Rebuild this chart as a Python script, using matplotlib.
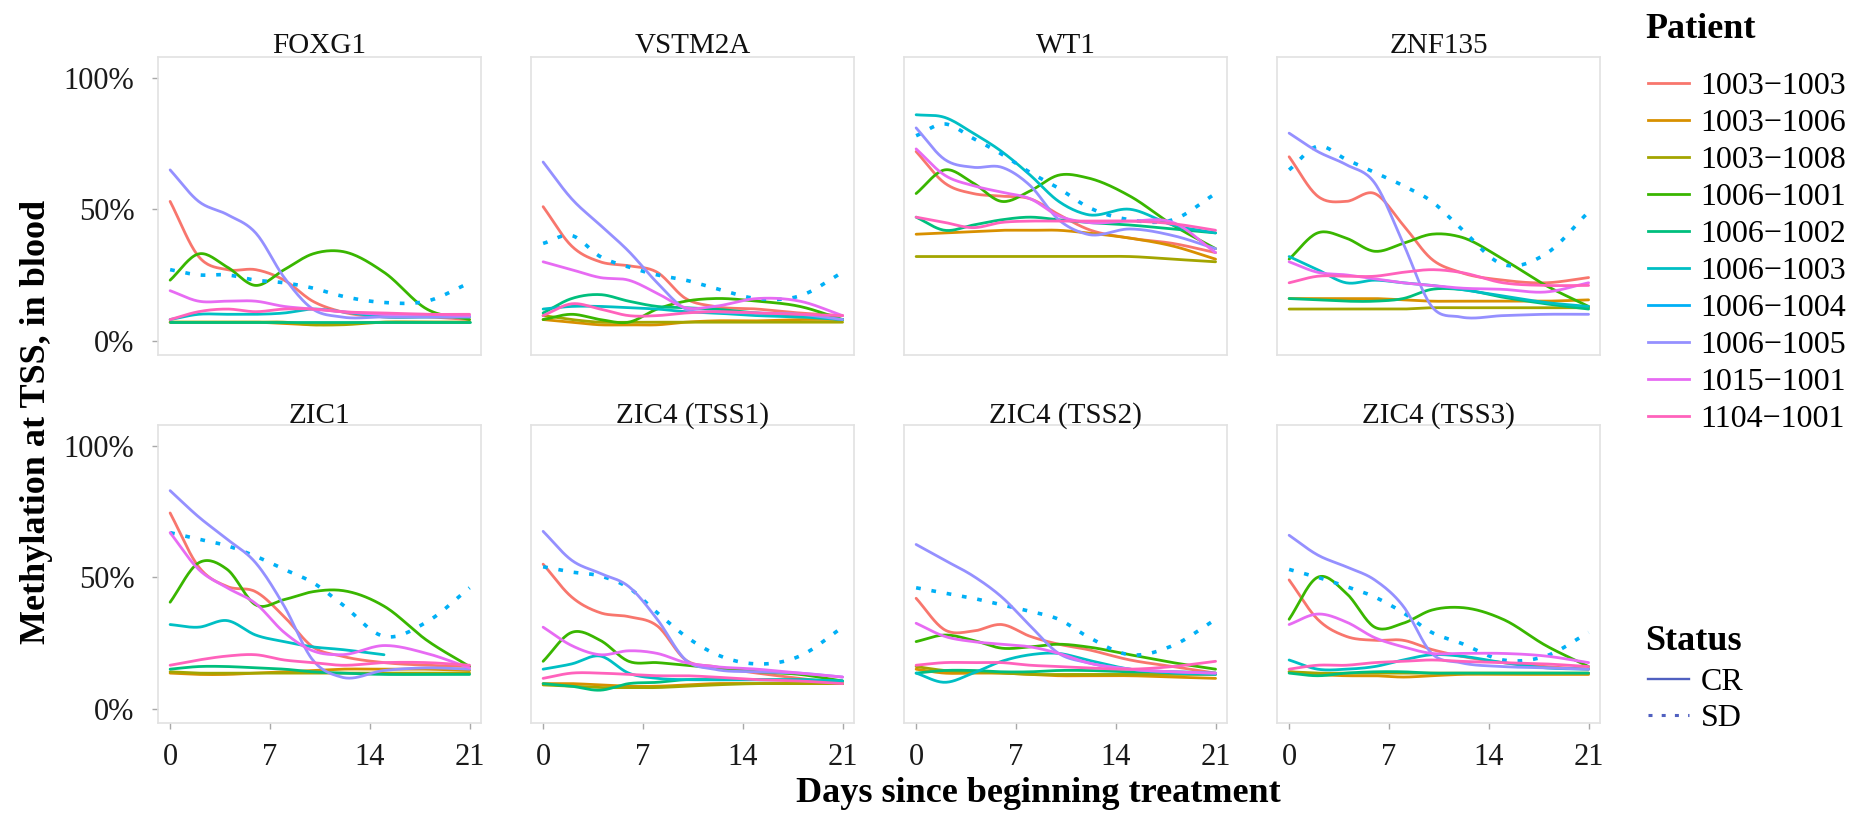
# plot.py
# Methylation at TSS over treatment days, one panel per gene

import numpy as np
import matplotlib
matplotlib.use('Agg')
import matplotlib.pyplot as plt
from matplotlib.lines import Line2D

plt.rcParams['font.family'] = ['Liberation Serif', 'DejaVu Serif']

# Patients (legend order) and their ggplot hue colours
patients = ['1003-1003', '1003-1006', '1003-1008', '1006-1001', '1006-1002',
            '1006-1003', '1006-1004', '1006-1005', '1015-1001', '1104-1001']
patient_colors = ['#F8766D', '#D89000', '#A3A500', '#39B600', '#00BF7D',
                  '#00BFC4', '#00B0F6', '#9590FF', '#E76BF3', '#FF62BC']
patient_status = ['CR', 'CR', 'CR', 'CR', 'CR', 'CR', 'SD', 'CR', 'CR', 'CR']
status_levels = ['CR', 'SD']

genes = ['FOXG1', 'VSTM2A', 'WT1', 'ZNF135',
         'ZIC1', 'ZIC4 (TSS1)', 'ZIC4 (TSS2)', 'ZIC4 (TSS3)']

days = [0, 2, 4, 6, 8, 10, 12, 15, 18, 21]

# methylation in %, one row per patient (same order as patients)
foxg1 = [
    [53, 32, 27, 27, 23, 15, 11, 9, 9, 8],
    [7, 7, 7, 7, 6.5, 6, 6.5, 7, 7, 7],
    [7, 7, 7, 7, 7, 6, 6, 7, 7, 7],
    [23, 33, 28, 21, 27, 33, 34, 26, 12, 8],
    [7, 7, 7, 7, 7, 7, 7, 7, 7, 7],
    [8, 10, 10, 10, 10.5, 12, 11, 9, 9, 9],
    [27, 25, 25, 23, 22, 20, 17, 14.5, 15, 22],
    [65, 53, 48, 41, 24, 12, 9, 9, 9, 9],
    [19, 15, 15, 15, 13, 12, 11, 10, 10, 9.5],
    [8, 11, 12, 11, 12, 12, 11, 10.5, 10, 10],
]
vstm2a = [
    [51, 36, 30, 28.5, 26, 16, 13, 12, 10.5, 9.5],
    [8, 7, 6, 6, 6, 7, 7.5, 7.5, 8, 8],
    [9.5, 8, 7, 7, 7, 7, 7, 7, 7, 7],
    [8, 10, 8, 7, 12, 15, 16, 15, 13, 8],
    [10.5, 16, 17.5, 15, 13, 12.5, 12, 10.5, 9.5, 8],
    [12, 13, 13, 12.5, 12, 11, 10.5, 9.5, 9, 8],
    [37, 40, 32, 28, 25, 23, 20, 16, 17, 26],
    [68, 54, 44, 34, 22, 12, 11, 10.5, 10, 8],
    [30, 27, 24, 23, 18, 12.5, 13, 16, 15, 9.5],
    [9.5, 14, 12, 9.5, 9.5, 10.5, 11, 10.5, 10, 9.5],
]
wt1 = [
    [72, 60, 56, 55, 54, 48, 42.5, 39, 37, 33.5],
    [40.5, 41, 41.5, 42, 42, 42, 41, 39, 36, 31],
    [32, 32, 32, 32, 32, 32, 32, 32, 31, 30],
    [56, 65, 60, 53, 57, 63, 62, 55, 44, 35],
    [47, 42, 44, 46, 47, 46, 45, 44, 42.5, 41],
    [86, 85, 79, 72, 63, 53, 48, 50, 44, 41],
    [78, 82.5, 77, 71, 64, 58, 51, 46, 46, 56],
    [81, 69, 66, 66, 59, 46, 40.5, 42.5, 40, 35],
    [73, 63, 59, 56.5, 54, 47.5, 45, 45.5, 45, 33.5],
    [47, 45, 43, 45, 45.5, 45.5, 45.5, 45.5, 44.5, 42],
]
znf135 = [
    [70, 55, 53, 56, 44, 31, 26, 23, 22, 24],
    [16, 16, 16, 16, 15.5, 15, 15, 15, 15, 15.5],
    [12, 12, 12, 12, 12, 12.5, 12.5, 12.5, 12.5, 12.5],
    [31, 41, 39, 34, 37, 40.5, 39.5, 31, 21, 13],
    [16, 15.5, 15, 15, 16, 19.5, 19.5, 16.5, 14, 12],
    [32, 27, 22, 23, 22, 21, 19.5, 17, 14.5, 13],
    [65, 74, 69, 64, 59, 53, 43, 29, 33, 49],
    [79, 72, 67, 60, 37, 13, 9, 9.5, 10, 10],
    [30, 26, 25, 23.5, 22, 21, 20, 19.5, 18.5, 22],
    [22, 24.5, 24.5, 24.5, 26, 27, 26, 22, 21, 21],
]
zic1 = [
    [74.5, 54, 46.5, 44.5, 35, 23.5, 20, 17.5, 16.5, 16],
    [13.5, 13, 13, 13.5, 14, 14.5, 15, 15, 15, 14.5],
    [14, 13.5, 13.5, 13.5, 13.5, 13.5, 13.5, 13.5, 13.5, 13.5],
    [40.5, 55.5, 53, 39.5, 41.5, 44.5, 45, 39, 26, 16],
    [15, 16, 16, 15.5, 15, 14, 13.5, 13, 13, 13],
    [32, 31, 33.5, 28, 25.5, 23.5, 22.5, 20.5, None, None],
    [67, 64.5, 62, 58, 53, 48, 40, 27.5, 33, 46],
    [83, 73, 64.5, 55.5, 39, 18.5, 12, 14.5, 15.5, 15],
    [67, 53, 46, 40, 29, 22, 20.5, 24, 21, 15.5],
    [16.5, 18.5, 20, 20.5, 18.5, 17.5, 16.5, 17.5, 17.5, 16.5],
]
zic4_tss1 = [
    [55, 42.5, 36.5, 35, 31.5, 18.5, 16, 13.5, 11.5, 9.5],
    [9.5, 9.5, 9, 8.5, 8.5, 9, 9.5, 9.5, 9.5, 9.5],
    [9, 8.5, 8, 8, 8, 8.5, 9, 9.5, 9.5, 9.5],
    [18, 29, 26, 18, 17.5, 16.5, 15.5, 14, 13, 10.5],
    [9.5, 8.5, 7, 9.5, 10, 11, 11, 11, 11, 10.5],
    [15, 17, 20, 13.5, 11.5, 11, 11, 11, 11, 10.5],
    [54, 52, 50.5, 46, 36.5, 27.5, 21, 17, 20, 31],
    [67.5, 56.5, 51.5, 46.5, 34, 18.5, 15, 14, 13.5, 12],
    [31, 24, 20.5, 22, 21, 17.5, 16, 15, 13.5, 12],
    [11.5, 13.5, 13.5, 13, 12.5, 12.5, 12, 11, 10.5, 9.5],
]
zic4_tss2 = [
    [42, 30, 29.5, 32, 27.5, 24.5, 22.5, 18.5, 16, 13.5],
    [15, 13.5, 13.5, 13.5, 13, 12.5, 12.5, 12.5, 12, 11.5],
    [16, 14.5, 14, 13.5, 13, 13, 13, 13, 13, 13],
    [25.5, 28, 26, 23, 23.5, 24.5, 23.5, 20.5, 17.5, 15],
    [13.5, 14.5, 14.5, 14, 14, 14.5, 14.5, 14, 14, 13.5],
    [13.5, 10, 13.5, 18, 20.5, 21, 18.5, 15, 13.5, 13],
    [46, 44, 42, 39.5, 37, 34, 27.5, 20.5, 24, 34],
    [62.5, 56.5, 50.5, 42.5, 31.5, 21, 17.5, 15, 14, 13.5],
    [32.5, 27.5, 25.5, 24.5, 23.5, 21, 17.5, 15, 14, 13.5],
    [16.5, 17.5, 17.5, 17.5, 16.5, 16, 15.5, 15, 16, 18],
]
zic4_tss3 = [
    [49, 34, 27.5, 26, 26, 22.5, 20, 17.5, 16, 15],
    [14, 13, 12.5, 12.5, 12, 12.5, 13, 13, 13, 13],
    [14, 13.5, 13.5, 13.5, 13.5, 13.5, 13.5, 13.5, 13.5, 13.5],
    [34, 50, 44, 31, 32.5, 37.5, 38.5, 34, 24, 16],
    [13.5, 12.5, 13.5, 14, 14, 13.5, 13.5, 13.5, 13.5, 13.5],
    [18.5, 15, 15, 16, 18.5, 20.5, 20, 17.5, 15.5, 15],
    [53, 50, 46.5, 42.5, 36.5, 29, 25, 18.5, 20, 29],
    [66, 58.5, 54, 49, 39, 21, 17.5, 16, 15.5, 15],
    [32, 36, 33, 27, 23.5, 21, 21, 21, 20, 17.5],
    [15, 16.5, 16.5, 17.5, 18, 18.5, 18, 17.5, 17, 16],
]
gene_values = [foxg1, vstm2a, wt1, znf135, zic1, zic4_tss1, zic4_tss2, zic4_tss3]

x_ticks = [0, 7, 14, 21]
y_ticks = [0, 50, 100]


def smooth_curve(x, y, n=200):
    """Cubic Hermite curve through the read points (stand-in for geom_smooth)."""
    x = np.asarray(x, dtype=float)
    y = np.asarray(y, dtype=float)
    ok = ~np.isnan(y)
    x, y = x[ok], y[ok]
    m = np.gradient(y, x)
    xs = np.linspace(x[0], x[-1], n)
    idx = np.clip(np.searchsorted(x, xs, side='right') - 1, 0, len(x) - 2)
    h = x[idx + 1] - x[idx]
    t = (xs - x[idx]) / h
    h00 = 2 * t**3 - 3 * t**2 + 1
    h10 = t**3 - 2 * t**2 + t
    h01 = -2 * t**3 + 3 * t**2
    h11 = t**3 - t**2
    ys = h00 * y[idx] + h10 * h * m[idx] + h01 * y[idx + 1] + h11 * h * m[idx + 1]
    return xs, ys


line_styles = {'CR': '-', 'SD': (0, (1.3, 3.0))}
line_widths = {'CR': 2.0, 'SD': 2.6}

W, H = 1868, 817
fig = plt.figure(figsize=(W / 100, H / 100), dpi=100)

col_left = [158, 531, 904, 1277]
row_top = [57, 425]
panel_w, panel_h = 323, 298

for i, gene in enumerate(genes):
    r, c = divmod(i, 4)
    ax = fig.add_axes([col_left[c] / W, 1 - (row_top[r] + panel_h) / H,
                       panel_w / W, panel_h / H])
    for p in range(len(patients)):
        xs, ys = smooth_curve(days, gene_values[i][p])
        st = patient_status[p]
        ax.plot(xs, ys, color=patient_colors[p], linestyle=line_styles[st],
                lw=line_widths[st], solid_capstyle='round')

    ax.set_xlim(-0.85, 21.8)
    ax.set_ylim(-5.5, 108)
    ax.set_xticks(x_ticks)
    ax.set_yticks(y_ticks)
    ax.set_yticklabels([f'{v}%' for v in y_ticks])
    ax.tick_params(axis='both', colors='#A8A8A8', length=4, width=1,
                   labelcolor='#1A1A1A', labelsize=22)
    ax.tick_params(axis='x', pad=10.5)
    ax.tick_params(axis='y', pad=13)
    if c != 0:
        ax.tick_params(axis='y', left=False, labelleft=False)
    if r == 0:
        ax.tick_params(axis='x', bottom=False, labelbottom=False)
    for s in ax.spines.values():
        s.set_color('#E2E2E2')
        s.set_linewidth(1.2)
    title_off = 11 if r == 0 else 9
    ax.text(0.5, 1 + title_off / panel_h, gene, transform=ax.transAxes,
            ha='center', va='center', fontsize=21, color='#111111')

fig.text(37 / W, 1 - 422 / H, 'Methylation at TSS, in blood', rotation=90,
         ha='center', va='center', fontsize=26, fontweight='bold')
fig.text(1038 / W, 1 - 793 / H, 'Days since beginning treatment',
         ha='center', va='center', fontsize=26, fontweight='bold')

# legends (titles placed separately so the gap below them can match)
fig.text(1645 / W, 1 - 30 / H, 'Patient', ha='left', va='center',
         fontsize=26, fontweight='bold')
patient_handles = [Line2D([], [], color=col, lw=2.0) for col in patient_colors]
leg1 = fig.legend(patient_handles, [p.replace('-', '\u2212') for p in patients],
                  loc='upper left', bbox_to_anchor=(1635 / W, 1 - 59 / H),
                  frameon=False, fontsize=23, handlelength=1.3,
                  handletextpad=0.35, labelspacing=0.24, borderaxespad=0)

fig.text(1645 / W, 1 - 642 / H, 'Status', ha='left', va='center',
         fontsize=26, fontweight='bold')
status_handles = [Line2D([], [], color='#5060C0', lw=line_widths[s] * 0.85,
                         linestyle=line_styles[s]) for s in status_levels]
leg2 = fig.legend(status_handles, status_levels,
                  loc='upper left', bbox_to_anchor=(1635 / W, 1 - 655 / H),
                  frameon=False, fontsize=23, handlelength=1.3,
                  handletextpad=0.35, labelspacing=0.2, borderaxespad=0)

fig.savefig('out.png', dpi=100, facecolor='white')
